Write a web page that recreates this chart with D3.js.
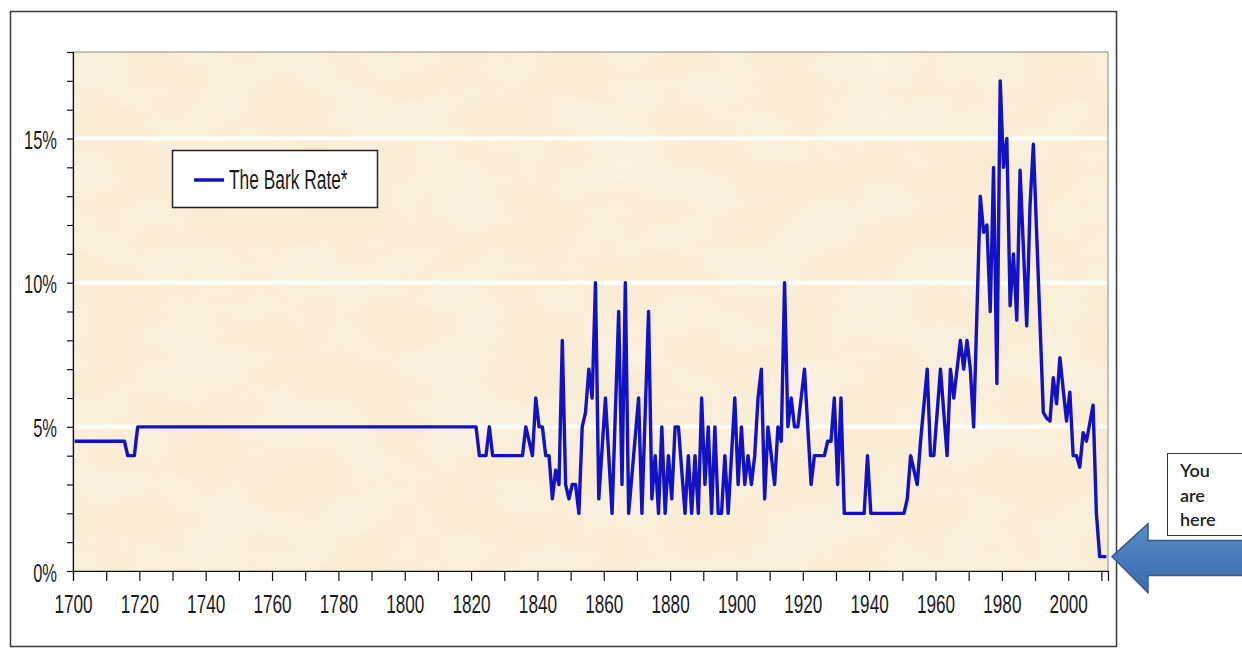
<!DOCTYPE html>
<html>
<head>
<meta charset="utf-8">
<script src="https://cdn.jsdelivr.net/npm/d3@7"></script>
<style>
    html, body { margin: 0; padding: 0; background: #fff; }
    #chart { width: 1242px; height: 648px; }
    text { font-family: "Liberation Sans", Arial, sans-serif; fill: #1a1a1a; }
</style>
</head>
<body>
<div id="chart"></div>
<script>
// vertices of the line (year, rate in %)
const years = [
    1700, 1715, 1716, 1718, 1719, 1821, 1822, 1824, 1825, 1826, 1835, 1836, 1838, 1839,
    1840, 1841, 1842, 1843, 1844, 1845, 1846, 1847, 1848, 1849, 1850, 1851, 1852, 1853,
    1854, 1855, 1856, 1857, 1858, 1860, 1862, 1864, 1865, 1866, 1867, 1870, 1871, 1873,
    1874, 1875, 1876, 1877, 1878, 1879, 1880, 1881, 1882, 1884, 1885, 1886, 1887, 1888,
    1889, 1890, 1891, 1892, 1893, 1894, 1895, 1896, 1897, 1899, 1900, 1901, 1902, 1903,
    1904, 1905, 1906, 1907, 1908, 1909, 1911, 1912, 1913, 1914, 1915, 1916, 1917, 1918,
    1920, 1922, 1923, 1926, 1927, 1928, 1929, 1930, 1931, 1932, 1938, 1939, 1940, 1950,
    1951, 1952, 1954, 1955, 1957, 1958, 1959, 1961, 1963, 1964, 1965, 1967, 1968, 1969,
    1970, 1971, 1973, 1974, 1975, 1976, 1977, 1978, 1979, 1980, 1981, 1982, 1983, 1984,
    1985, 1987, 1988, 1989, 1992, 1993, 1994, 1995, 1996, 1997, 1999, 2000, 2001, 2002,
    2003, 2004, 2005, 2007, 2008, 2009, 2011
]
const rates = [
    4.5, 4.5, 4, 4, 5, 5, 4, 4, 5, 4, 4, 5, 4, 6,
    5, 5, 4, 4, 2.5, 3.5, 3, 8, 3, 2.5, 3, 3, 2, 5,
    5.5, 7, 6, 10, 2.5, 6, 2, 9, 3, 10, 2, 6, 2, 9,
    2.5, 4, 2, 5, 2, 4, 2.5, 5, 5, 2, 4, 2, 4, 2,
    6, 3, 5, 2, 5, 2, 2, 4, 2, 6, 3, 5, 3, 4,
    3, 4, 6, 7, 2.5, 5, 3, 5, 4.5, 10, 5, 6, 5, 5,
    7, 3, 4, 4, 4.5, 4.5, 6, 3, 6, 2, 2, 4, 2, 2,
    2.5, 4, 3, 4.5, 7, 4, 4, 7, 4, 7, 6, 8, 7, 8,
    7, 5, 13, 11.75, 12, 9, 14, 6.5, 17, 14, 15, 9.2, 11, 8.7,
    13.9, 8.5, 12.7, 14.8, 5.5, 5.3, 5.2, 6.7, 5.8, 7.4, 5.2, 6.2, 4, 4,
    3.6, 4.8, 4.5, 5.75, 2, 0.5, 0.5
]
const xTicks = d3.range(1700, 2011, 10)
const xLabelStep = 20
const yTicks = d3.range(0, 19, 1)
const gridValues = [5, 10, 15]
const seriesName = "The Bark Rate*"
const noteLines = ["You", "are", "here"]

const W = 1242, H = 648
const plot = { left: 73, top: 52, right: 1108, bottom: 571 }
const squeeze = 0.66   // the reference text is horizontally compressed

const svg = d3.select("#chart")
    .append("svg")
        .attr("width", W)
        .attr("height", H)

const defs = svg.append("defs")
const paper = defs.append("filter")
    .attr("id", "paper")
    .attr("x", 0).attr("y", 0).attr("width", 1).attr("height", 1)
paper.append("feTurbulence")
    .attr("type", "fractalNoise")
    .attr("baseFrequency", "0.012 0.02")
    .attr("numOctaves", 3)
    .attr("seed", 7)
paper.append("feColorMatrix")
    .attr("type", "matrix")
    .attr("values", "0 0 0 0 1  0 0 0 0 1  0 0 0 0 1  1.4 0 0 0 -0.5")

const arrowFill = defs.append("linearGradient")
    .attr("id", "arrowFill")
    .attr("x1", 0).attr("y1", 0).attr("x2", 0).attr("y2", 1)
arrowFill.append("stop").attr("offset", "0%").attr("stop-color", "#5b8bc8")
arrowFill.append("stop").attr("offset", "100%").attr("stop-color", "#3b6aab")

// outer frame
svg.append("rect")
    .attr("x", 10.5).attr("y", 11.5)
    .attr("width", 1106).attr("height", 635)
    .attr("fill", "#fff")
    .attr("stroke", "#3a3a3a")
    .attr("stroke-width", 1.5)

const x = d3.scaleLinear()
    .domain([1700, 2012])
    .range([plot.left, plot.right])

const y = d3.scaleLinear()
    .domain([0, 18])
    .range([plot.bottom, plot.top])

// plot background
svg.append("rect")
    .attr("x", plot.left).attr("y", plot.top)
    .attr("width", plot.right - plot.left)
    .attr("height", plot.bottom - plot.top)
    .attr("fill", "#f9ecd4")
svg.append("rect")
    .attr("x", plot.left).attr("y", plot.top)
    .attr("width", plot.right - plot.left)
    .attr("height", plot.bottom - plot.top)
    .attr("filter", "url(#paper)")
    .attr("opacity", 0.5)

// gridlines
svg.append("g")
    .selectAll("line")
    .data(gridValues)
    .enter()
    .append("line")
        .attr("x1", plot.left).attr("x2", plot.right)
        .attr("y1", d => y(d)).attr("y2", d => y(d))
        .attr("stroke", "#fffdf8")
        .attr("stroke-width", 4)

svg.append("rect")
    .attr("x", plot.left).attr("y", plot.top)
    .attr("width", plot.right - plot.left)
    .attr("height", plot.bottom - plot.top)
    .attr("fill", "none")
    .attr("stroke", "#8a8a8a")
    .attr("stroke-width", 1)

// axes
const yAxis = svg.append("g")
    .attr("transform", `translate(${plot.left},0)`)
    .call(d3.axisLeft(y)
        .tickValues(yTicks)
        .tickSize(6)
        .tickPadding(0)
        .tickFormat(d => d % 5 === 0 && d < 18 ? d + "%" : ""))
yAxis.select(".domain").attr("stroke", "#111").attr("stroke-width", 1.2)
yAxis.selectAll(".tick line").attr("stroke", "#111").attr("stroke-width", 1.2)
yAxis.selectAll(".tick text")
    .attr("x", -16 / squeeze)
    .attr("dy", 0)
    .attr("y", 10)
    .attr("transform", `scale(${squeeze},1)`)
    .style("font-size", "25px")
    .style("fill", "#1a1a1a")

const xAxis = svg.append("g")
    .attr("transform", `translate(0,${plot.bottom})`)
    .call(d3.axisBottom(x)
        .tickValues(xTicks)
        .tickSize(10)
        .tickFormat(d => d % xLabelStep === 0 && d <= 2000 ? d : ""))
xAxis.select(".domain").attr("stroke", "#111").attr("stroke-width", 1.2)
xAxis.selectAll(".tick line").attr("stroke", "#111").attr("stroke-width", 1.2)
xAxis.selectAll(".tick text")
    .attr("y", 42)
    .attr("dy", 0)
    .attr("transform", `scale(${squeeze},1)`)
    .style("font-size", "26px")
    .style("fill", "#1a1a1a")

// the rate line, points sit in the middle of each year slot
const points = years.map((yr, i) => ({ year: yr, rate: rates[i] }))
const line = d3.line()
    .x(d => x(d.year + 0.5))
    .y(d => y(d.rate))

svg.append("path")
    .datum(points)
    .attr("d", line)
    .attr("fill", "none")
    .attr("stroke", "#1212c4")
    .attr("stroke-width", 3.4)
    .attr("stroke-linejoin", "round")

// legend
const legend = svg.append("g")
    .attr("transform", "translate(172,150)")
legend.append("rect")
    .attr("x", 0.5).attr("y", 0.5)
    .attr("width", 205).attr("height", 57)
    .attr("fill", "#fff")
    .attr("stroke", "#222")
    .attr("stroke-width", 1.5)
legend.append("line")
    .attr("x1", 22).attr("x2", 52)
    .attr("y1", 30).attr("y2", 30)
    .attr("stroke", "#1212c4")
    .attr("stroke-width", 3.5)
legend.append("text")
    .attr("transform", `translate(57,39) scale(0.62,1)`)
    .style("font-size", "28px")
    .text(seriesName)

// "you are here" note and arrow
const last = points[points.length - 1]
const tipX = plot.right + 4
const tipY = y(last.rate)

svg.append("path")
    .attr("d", `M${tipX},${tipY} L${tipX + 36},${tipY - 33} L${tipX + 36},${tipY - 16}
        L${W + 10},${tipY - 16} L${W + 10},${tipY + 19} L${tipX + 36},${tipY + 19}
        L${tipX + 36},${tipY + 36} Z`)
    .attr("fill", "url(#arrowFill)")
    .attr("stroke", "#355c8f")
    .attr("stroke-width", 1.5)

const note = svg.append("g")
    .attr("transform", "translate(1167,453)")
note.append("rect")
    .attr("x", 0.5).attr("y", 0.5)
    .attr("width", 90).attr("height", 82)
    .attr("fill", "#fff")
    .attr("stroke", "#333")
    .attr("stroke-width", 1)
note.selectAll("text.note")
    .data(noteLines)
    .enter()
    .append("text")
        .attr("class", "note")
        .attr("x", 13)
        .attr("y", (d, i) => 24 + i * 24.5)
        .style("font-family", "Lato, 'Open Sans', sans-serif")
        .style("font-size", "18px")
        .style("font-weight", 600)
        .style("fill", "#222")
        .text(d => d)
</script>
</body>
</html>
